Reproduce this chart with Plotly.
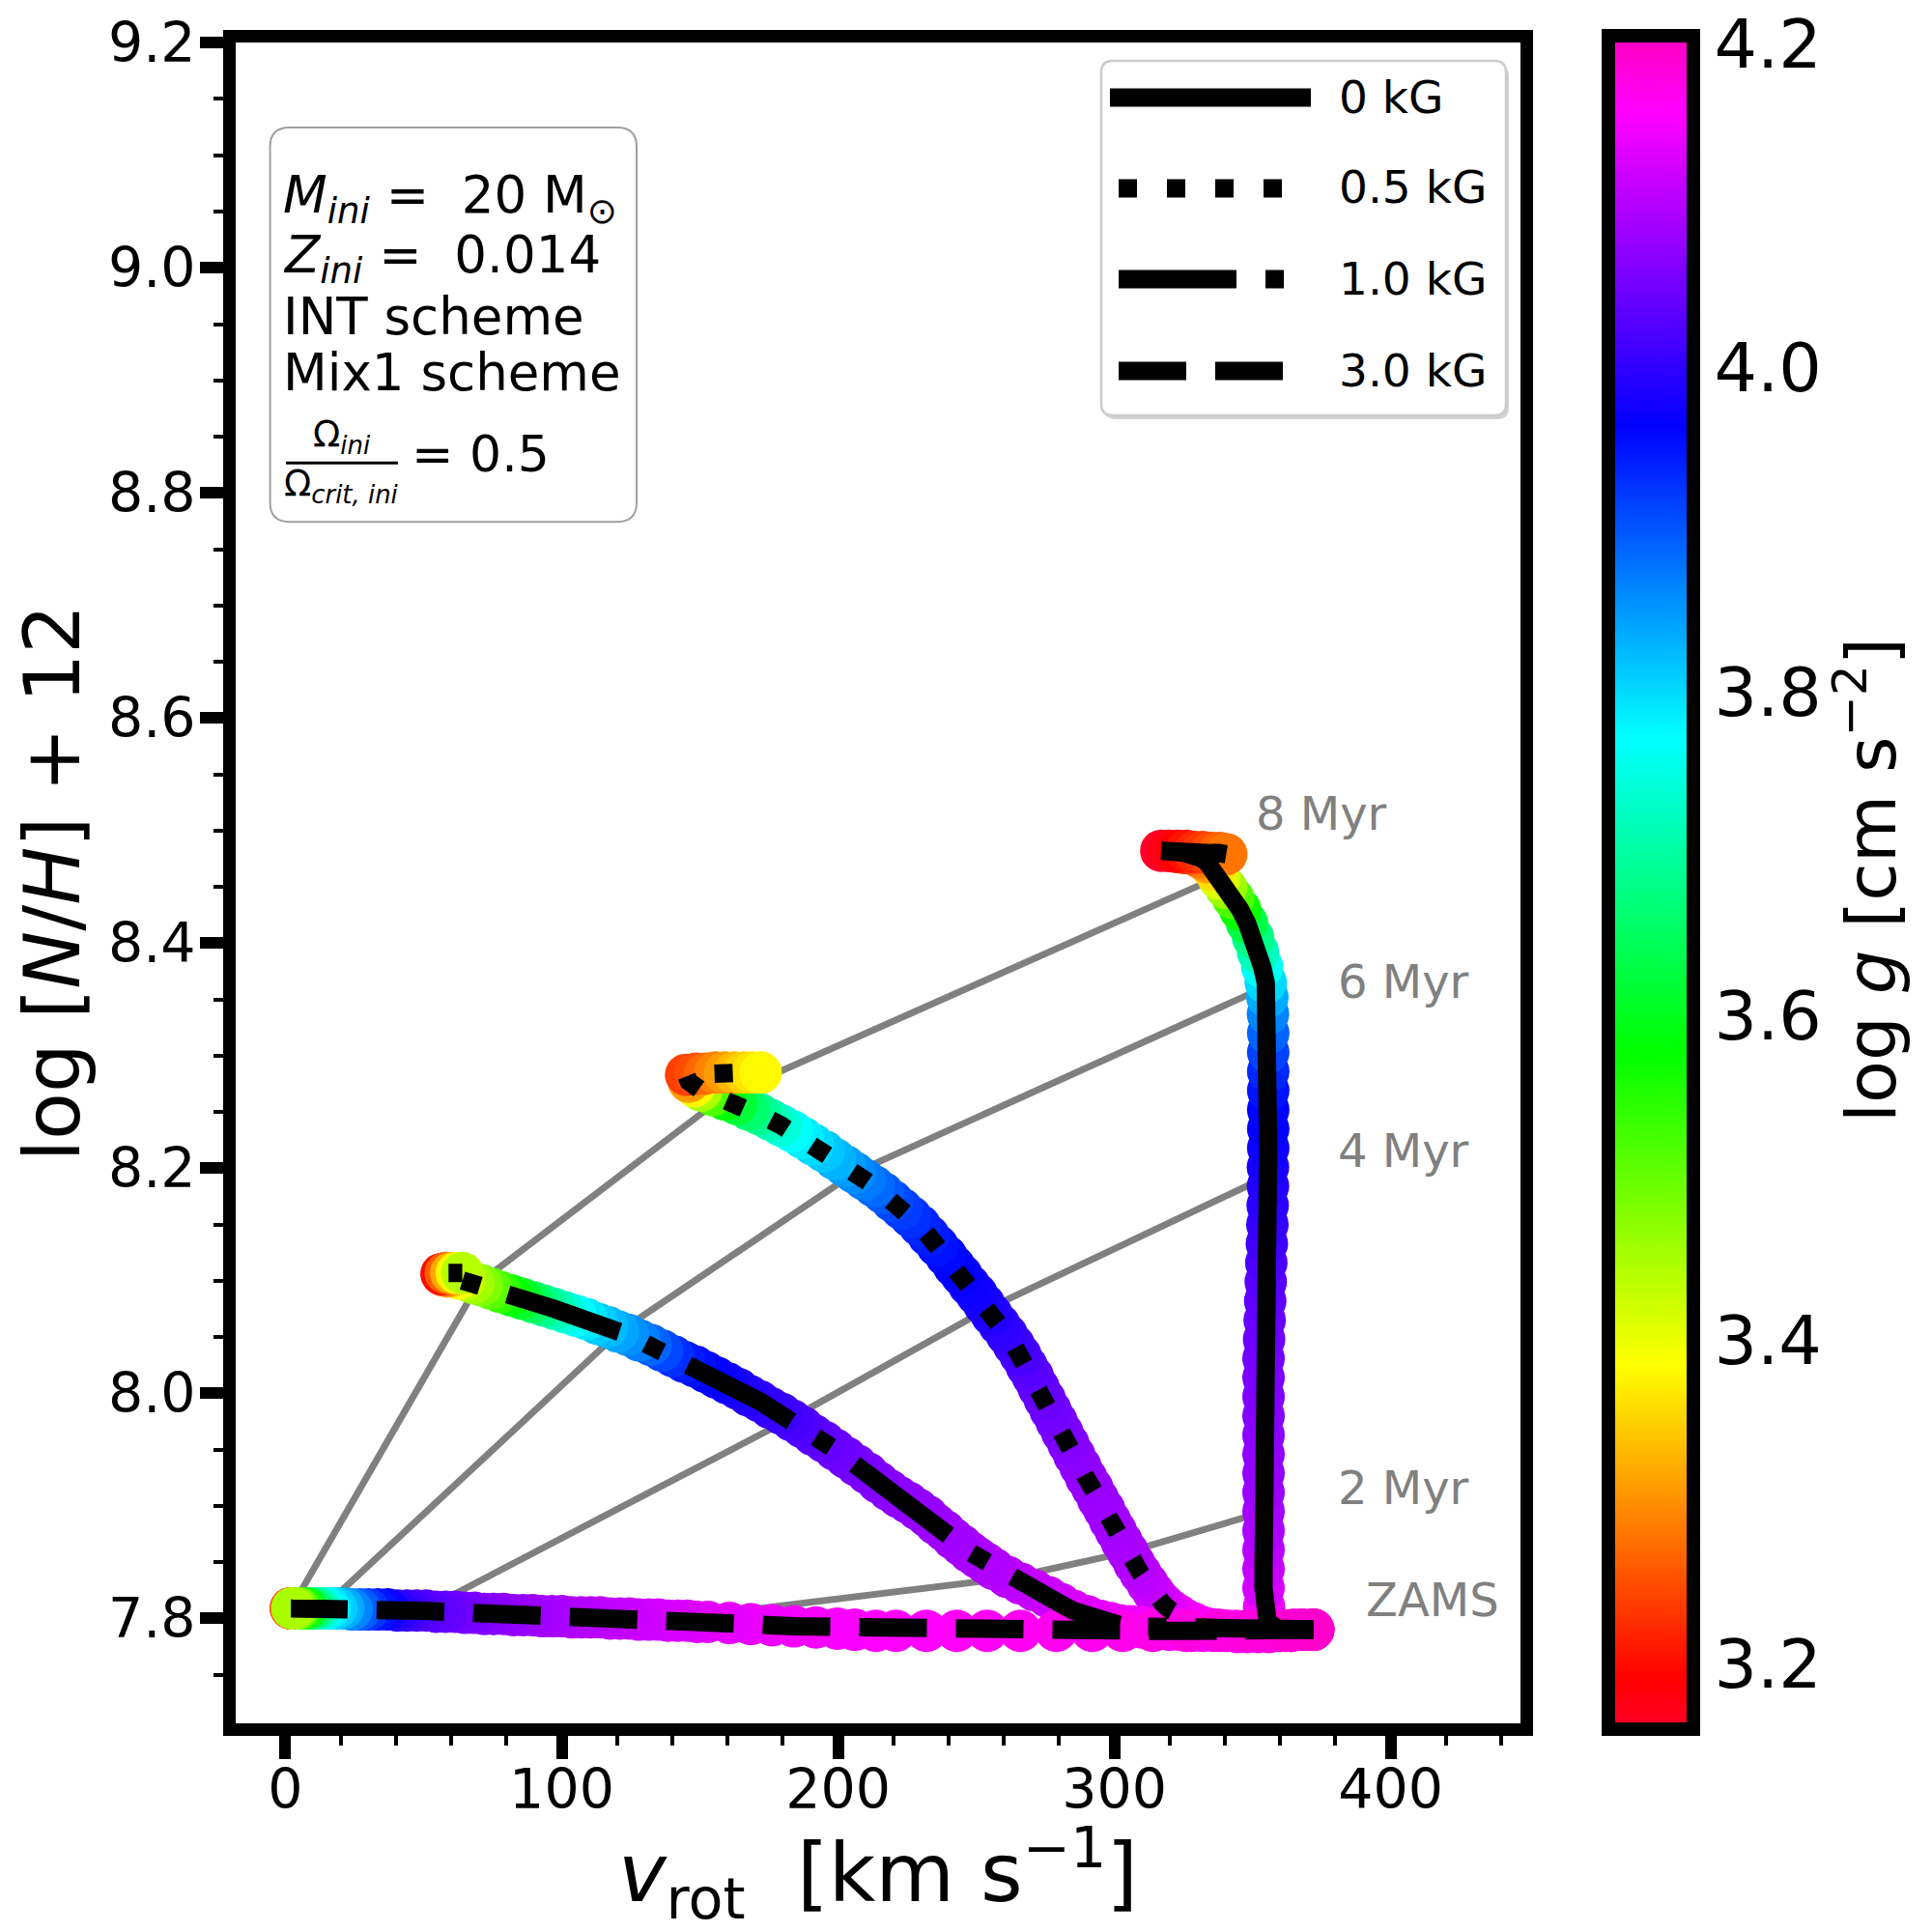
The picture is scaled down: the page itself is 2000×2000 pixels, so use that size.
import plotly.graph_objects as go

# ---------------- data ----------------
# 0 kG track: v_rot [km/s], log[N/H]+12, log g
v_0kG = [372, 365, 359, 355.5, 354.2, 354, 354, 354, 354, 354, 354, 354, 354, 354, 354, 354, 354, 354,
         354.2, 354.4, 354.6, 354.8, 355, 355.2, 355.4, 355.5, 355.6, 355.6, 355.7, 355.7, 355.7, 355.7,
         355.7, 355.7, 355.7, 355.6, 355.4, 354.8, 353.5, 352, 350.2, 348, 345.5, 343, 340.5, 338, 336,
         333.5, 331, 328.5, 325.5, 322.5, 319.5, 317, 320, 323, 326, 329, 332, 335, 338, 340.5]
n_0kG = [7.790, 7.790, 7.791, 7.797, 7.810, 7.827, 7.844, 7.861, 7.878, 7.895, 7.912, 7.929, 7.946,
         7.963, 7.980, 7.997, 8.014, 8.031, 8.048, 8.065, 8.082, 8.099, 8.116, 8.133, 8.150, 8.167,
         8.184, 8.201, 8.218, 8.235, 8.252, 8.269, 8.286, 8.303, 8.320, 8.337, 8.352, 8.365, 8.379,
         8.392, 8.405, 8.418, 8.430, 8.440, 8.449, 8.457, 8.465, 8.472, 8.476, 8.479, 8.480, 8.481,
         8.482, 8.482, 8.482, 8.482, 8.482, 8.481, 8.481, 8.480, 8.480, 8.479]
g_0kG = [4.195, 4.19, 4.18, 4.16, 4.145, 4.125, 4.115, 4.105, 4.095, 4.09, 4.082, 4.078, 4.074, 4.07,
         4.066, 4.062, 4.058, 4.054, 4.048, 4.042, 4.036, 4.03, 4.022, 4.012, 4.004, 3.998, 3.99, 3.982,
         3.975, 3.968, 3.962, 3.95, 3.935, 3.915, 3.89, 3.865, 3.835, 3.80, 3.765, 3.72, 3.68, 3.63,
         3.57, 3.52, 3.46, 3.41, 3.36, 3.31, 3.285, 3.26, 3.235, 3.21, 3.185, 3.16, 3.175, 3.19, 3.205,
         3.22, 3.235, 3.25, 3.265, 3.28]

# 0.5 kG track
v_05kG = [372, 368, 364, 360, 356, 352, 348, 344.5, 341, 337.5, 334, 331, 328.3, 325.5, 323, 320.5, 318,
          316, 314.2, 312, 309.5, 307.2, 304.9, 302.7, 300.5, 298.4, 296.3, 294.1, 292, 289.8, 287.7,
          285.5, 283.4, 281.2, 279.1, 276.9, 274.8, 272.6, 270.5, 268.3, 266, 263.6, 261.1, 258.4, 255.6,
          252.9, 250.2, 247.5, 244.7, 242, 239.2, 236, 232.8, 229.6, 226.3, 223, 219.6, 216.3, 213, 209.5,
          206, 202.5, 198.9, 195, 191, 187.2, 183.3, 179.4, 175.5, 171.6, 167.7, 163.4, 159, 154.8, 150.5,
          148, 146, 145, 148.5, 152, 155.5, 159, 162.5, 166, 169, 172]
n_05kG = [7.790, 7.790, 7.789, 7.789, 7.788, 7.788, 7.788, 7.788, 7.789, 7.790, 7.791, 7.793, 7.796,
          7.799, 7.803, 7.807, 7.812, 7.817, 7.823, 7.831, 7.840, 7.849, 7.859, 7.868, 7.878, 7.887,
          7.897, 7.906, 7.916, 7.925, 7.935, 7.945, 7.955, 7.965, 7.975, 7.985, 7.995, 8.005, 8.015,
          8.024, 8.034, 8.043, 8.052, 8.061, 8.070, 8.079, 8.088, 8.096, 8.105, 8.113, 8.122, 8.131,
          8.140, 8.149, 8.157, 8.164, 8.171, 8.178, 8.184, 8.190, 8.196, 8.202, 8.208, 8.215, 8.221,
          8.227, 8.233, 8.238, 8.243, 8.248, 8.252, 8.257, 8.261, 8.265, 8.269, 8.273, 8.277, 8.283,
          8.284, 8.284, 8.285, 8.285, 8.285, 8.285, 8.285, 8.285]
g_05kG = [4.195, 4.192, 4.19, 4.187, 4.185, 4.182, 4.18, 4.177, 4.175, 4.172, 4.168, 4.163, 4.158,
          4.152, 4.146, 4.14, 4.134, 4.127, 4.12, 4.112, 4.105, 4.10, 4.095, 4.092, 4.09, 4.087, 4.085,
          4.082, 4.08, 4.077, 4.075, 4.07, 4.065, 4.06, 4.055, 4.05, 4.045, 4.04, 4.035, 4.028, 4.02,
          4.012, 4.005, 3.998, 3.99, 3.985, 3.98, 3.975, 3.97, 3.965, 3.96, 3.952, 3.945, 3.938, 3.93,
          3.92, 3.91, 3.898, 3.885, 3.872, 3.86, 3.845, 3.83, 3.815, 3.80, 3.785, 3.77, 3.745, 3.72,
          3.69, 3.66, 3.62, 3.58, 3.52, 3.45, 3.38, 3.31, 3.24, 3.25, 3.27, 3.29, 3.31, 3.33, 3.35,
          3.365, 3.38]

# 1.0 kG track
v_10kG = [372, 368, 364, 360, 356, 352, 348, 344, 340, 336, 332, 328, 324, 320, 316, 313, 310, 306, 302,
          298.3, 294.7, 290, 285, 280.5, 276, 271, 266, 261.2, 256.4, 253.5, 250.5, 247.6, 244.7, 241.6,
          238.5, 235.3, 232.2, 228.8, 225.3, 221.9, 218.4, 214.5, 210.6, 206.7, 202.8, 198.9, 195, 191.1,
          187.2, 183.3, 179.4, 175.5, 171.6, 167.7, 163.8, 159.9, 156, 152.1, 148.2, 144.3, 140.3, 136.3,
          132.2, 128.1, 124, 120.3, 116.5, 112.8, 109, 105.1, 101.2, 97.4, 93.5, 89.6, 85.6, 81.7, 77.8,
          74.4, 71, 68, 65, 62.5, 60, 58.5, 57, 56.5, 58, 60, 62, 64]
n_10kG = [7.790, 7.790, 7.789, 7.789, 7.789, 7.789, 7.789, 7.789, 7.789, 7.789, 7.789, 7.789, 7.790,
          7.790, 7.791, 7.791, 7.792, 7.793, 7.794, 7.796, 7.798, 7.802, 7.807, 7.813, 7.819, 7.825,
          7.831, 7.837, 7.844, 7.849, 7.854, 7.859, 7.865, 7.871, 7.878, 7.884, 7.891, 7.897, 7.903,
          7.908, 7.914, 7.921, 7.929, 7.936, 7.943, 7.950, 7.957, 7.963, 7.970, 7.976, 7.982, 7.987,
          7.993, 7.998, 8.004, 8.009, 8.014, 8.019, 8.024, 8.028, 8.033, 8.038, 8.043, 8.047, 8.052,
          8.055, 8.059, 8.062, 8.066, 8.069, 8.072, 8.075, 8.078, 8.081, 8.084, 8.087, 8.090, 8.093,
          8.096, 8.098, 8.101, 8.102, 8.104, 8.104, 8.105, 8.106, 8.107, 8.107, 8.107, 8.107]
g_10kG = [4.195, 4.192, 4.19, 4.187, 4.185, 4.182, 4.18, 4.177, 4.175, 4.172, 4.17, 4.167, 4.165,
          4.162, 4.158, 4.155, 4.152, 4.148, 4.145, 4.142, 4.14, 4.135, 4.13, 4.125, 4.12, 4.115, 4.11,
          4.105, 4.10, 4.097, 4.095, 4.092, 4.09, 4.087, 4.085, 4.082, 4.08, 4.077, 4.075, 4.072, 4.07,
          4.065, 4.06, 4.055, 4.05, 4.045, 4.04, 4.032, 4.025, 4.018, 4.01, 4.005, 4.0, 3.992, 3.985,
          3.977, 3.97, 3.962, 3.955, 3.945, 3.93, 3.91, 3.89, 3.87, 3.855, 3.84, 3.825, 3.81, 3.79,
          3.77, 3.745, 3.715, 3.685, 3.65, 3.61, 3.575, 3.54, 3.51, 3.48, 3.455, 3.43, 3.39, 3.35,
          3.31, 3.27, 3.2, 3.26, 3.32, 3.38, 3.44]

# 3.0 kG track
v_30kG = [372, 362, 350, 338, 326, 314, 303, 292, 279, 266, 254, 243, 232, 221, 213.7, 206, 199.7, 192,
          184, 176.2, 168.5, 160.7, 152.8, 149, 145.5, 142, 138.5, 135, 131.5, 128, 124.5, 121, 117.5,
          114, 110.5, 107, 103.5, 100, 96.5, 93, 89.5, 86, 82.5, 79, 75.5, 72, 68.5, 65, 61.5, 58, 54.5,
          51, 47.5, 44, 40.5, 37, 33.5, 30, 27, 24, 21, 18.5, 16, 14, 12, 10, 8, 6.5, 5, 3.8, 2.8, 2.2,
          2, 2, 2.2, 2.5]
n_30kG = [7.790, 7.789, 7.789, 7.789, 7.789, 7.789, 7.789, 7.789, 7.789, 7.789, 7.789, 7.789, 7.789,
          7.789, 7.789, 7.790, 7.791, 7.792, 7.793, 7.794, 7.795, 7.796, 7.797, 7.797, 7.798, 7.798,
          7.798, 7.799, 7.799, 7.799, 7.800, 7.800, 7.800, 7.801, 7.801, 7.801, 7.801, 7.802, 7.802,
          7.802, 7.803, 7.803, 7.803, 7.804, 7.804, 7.804, 7.805, 7.805, 7.806, 7.806, 7.806, 7.807,
          7.807, 7.807, 7.807, 7.808, 7.808, 7.808, 7.808, 7.808, 7.809, 7.809, 7.809, 7.809, 7.809,
          7.809, 7.809, 7.809, 7.809, 7.809, 7.809, 7.809, 7.809, 7.809, 7.809, 7.809]
g_30kG = [4.195, 4.19, 4.185, 4.18, 4.178, 4.175, 4.172, 4.17, 4.168, 4.166, 4.164, 4.162, 4.16, 4.158,
          4.157, 4.155, 4.153, 4.15, 4.148, 4.145, 4.142, 4.138, 4.135, 4.133, 4.131, 4.129, 4.127,
          4.125, 4.122, 4.12, 4.117, 4.114, 4.111, 4.108, 4.105, 4.102, 4.099, 4.096, 4.093, 4.089,
          4.085, 4.081, 4.077, 4.073, 4.069, 4.064, 4.059, 4.054, 4.048, 4.042, 4.035, 4.028, 4.02,
          4.008, 3.995, 3.975, 3.95, 3.925, 3.895, 3.865, 3.835, 3.81, 3.785, 3.76, 3.72, 3.67, 3.61,
          3.56, 3.51, 3.47, 3.42, 3.36, 3.26, 3.17, 3.30, 3.45]

track_names = ["0 kG", "0.5 kG", "1.0 kG", "3.0 kG"]

# isochrones: vertices on the 3.0, 1.0, 0.5 and 0 kG tracks
iso_names = ["2 Myr", "4 Myr", "6 Myr", "8 Myr"]
iso_v = [[135, 262, 304.9, 354.5],
         [49, 182.5, 254, 355.6],
         [13, 121, 206, 355.5],
         [2, 70, 158.8, 335]]
iso_n = [[7.798, 7.836, 7.859, 7.895],
         [7.806, 7.977, 8.075, 8.193],
         [7.808, 8.055, 8.196, 8.362],
         [7.809, 8.098, 8.264, 8.456]]

# age labels
lab_text = ["8 Myr", "6 Myr", "4 Myr", "2 Myr", "ZAMS"]
lab_v = [350.5, 380.2, 380.2, 380.2, 390.4]
lab_n = [8.5154, 8.3662, 8.2157, 7.9159, 7.8167]

cb_ticks = [3.2, 3.4, 3.6, 3.8, 4.0, 4.2]
g_min, g_max = 3.16, 4.205

# ---------------- styling ----------------
FONT = "DejaVu Sans"
gist_rainbow = [[0.0, "#ff0029"], [0.03, "#ff0000"], [0.215, "#ffff00"], [0.4, "#00ff00"],
                [0.586, "#00ffff"], [0.77, "#0000ff"], [0.954, "#ff00ff"], [1.0, "#ff00bf"]]
LW = 19
dashes = ["solid", "19px,31px", "122px,30px,19px,30px", "70px,30px"]

# plot area on screen: x 244..1574, y 44..1784 (page has an 8 px body margin)
def px(X):
    return (X - 244) / 1330.0


def py(Y):
    return (1784 - Y) / 1740.0


tracks_v = [v_0kG, v_05kG, v_10kG, v_30kG]
tracks_n = [n_0kG, n_05kG, n_10kG, n_30kG]
tracks_g = [g_0kG, g_05kG, g_10kG, g_30kG]

fig = go.Figure()

for name, xv, yv in zip(iso_names, iso_v, iso_n):
    fig.add_trace(go.Scatter(x=xv, y=yv, mode="lines", line=dict(color="#808080", width=7),
                             showlegend=False, hoverinfo="skip", name=name))

for i, (xv, yv, gv) in enumerate(zip(tracks_v, tracks_n, tracks_g)):
    fig.add_trace(go.Scatter(
        x=xv, y=yv, mode="markers", showlegend=False, hoverinfo="skip", name=track_names[i],
        marker=dict(size=44, color=gv, colorscale=gist_rainbow, cmin=g_min, cmax=g_max,
                    line=dict(width=0), showscale=(i == 0),
                    colorbar=dict(
                        thickness=88, thicknessmode="pixels", len=1753, lenmode="pixels",
                        x=px(1665), xanchor="left", y=0.5004, yanchor="middle",
                        xpad=0, ypad=0, outlinewidth=14, outlinecolor="black",
                        ticks="", ticklen=0, tickvals=cb_ticks,
                        ticktext=[f"{t:.1f}" for t in cb_ticks], ticklabeloverflow="allow",
                        tickfont=dict(size=70, family=FONT, color="black"),
                    ))))

for i, (xv, yv) in enumerate(zip(tracks_v, tracks_n)):
    fig.add_trace(go.Scatter(x=xv, y=yv, mode="lines", name=track_names[i], showlegend=False,
                             hoverinfo="skip", line=dict(color="black", width=LW, dash=dashes[i])))

annotations = []
shapes = []

# colour-bar title
annotations.append(dict(x=px(1932), y=py(911), xref="paper", yref="paper", textangle=-90,
                        text="log <i>g</i> [cm s<sup>\u22122</sup>]", showarrow=False,
                        xanchor="center", yanchor="middle",
                        font=dict(size=72, family=FONT, color="black")))

# age labels
for t, xv, yv in zip(lab_text, lab_v, lab_n):
    annotations.append(dict(x=xv, y=yv, xref="x", yref="y", text=t, showarrow=False,
                            xanchor="left", yanchor="middle",
                            font=dict(size=48, family=FONT, color="#808080")))

# info box
info_lines = ["<i>M</i><sub><i>ini</i></sub> =\u00a0 20 M<sub>\u2299</sub>",
              "<i>Z</i><sub><i>ini</i></sub> =\u00a0 0.014",
              "INT scheme",
              "Mix1 scheme"]
info_n = [9.0612, 9.0081, 8.9572, 8.9071]
for t, yv in zip(info_lines, info_n):
    annotations.append(dict(x=-1.6, y=yv, xref="x", yref="y", text=t, showarrow=False,
                            xanchor="left", yanchor="middle",
                            font=dict(size=53, family=FONT, color="black")))
annotations.append(dict(x=20.3, y=8.8497, xref="x", yref="y", text="\u03a9<sub><i>ini</i></sub>",
                        showarrow=False, xanchor="center", yanchor="middle",
                        font=dict(size=37, family=FONT, color="black")))
annotations.append(dict(x=20.3, y=8.8066, xref="x", yref="y",
                        text="\u03a9<sub><i>crit,\u00a0ini</i></sub>",
                        showarrow=False, xanchor="center", yanchor="middle",
                        font=dict(size=37, family=FONT, color="black")))
annotations.append(dict(x=45.0, y=8.8343, xref="x", yref="y", text="= 0.5",
                        showarrow=False, xanchor="left", yanchor="middle",
                        font=dict(size=52, family=FONT, color="black")))


def rounded(x0, x1, y0, y1, rx, ry):
    return (f"M {x0+rx},{y0} L {x1-rx},{y0} Q {x1},{y0} {x1},{y0+ry} "
            f"L {x1},{y1-ry} Q {x1},{y1} {x1-rx},{y1} L {x0+rx},{y1} "
            f"Q {x0},{y1} {x0},{y1-ry} L {x0},{y0+ry} Q {x0},{y0} {x0+rx},{y0} Z")


shapes.append(dict(type="path", path=rounded(-5.56, 127.1, 8.7743, 9.1247, 7.0, 0.0171),
                   xref="x", yref="y", line=dict(color="#a0a0a0", width=2),
                   fillcolor="rgba(255,255,255,0.8)", layer="above"))
shapes.append(dict(type="line", x0=0.2, x1=40.7, y0=8.8266, y1=8.8266, xref="x", yref="y",
                   line=dict(color="black", width=3), layer="above"))

# legend (drawn by hand so the samples keep the full line width)
shapes.append(dict(type="path", xref="paper", yref="paper", layer="above",
                   path=rounded(px(1143), px(1562), py(434), py(67), 12 / 1330, 12 / 1740),
                   line=dict(width=0), fillcolor="rgba(0,0,0,0.18)"))
shapes.append(dict(type="path", xref="paper", yref="paper", layer="above",
                   path=rounded(px(1140), px(1559), py(430), py(63), 12 / 1330, 12 / 1740),
                   line=dict(color="#cccccc", width=2.5), fillcolor="white"))
leg_y = [101, 195, 289, 384]
leg_x0 = [1149, 1158, 1158, 1158]
leg_x1 = [1357, 1348, 1348, 1348]
for i in range(4):
    shapes.append(dict(type="line", xref="paper", yref="paper", layer="above",
                       x0=px(leg_x0[i]), x1=px(leg_x1[i]), y0=py(leg_y[i]), y1=py(leg_y[i]),
                       line=dict(color="black", width=LW, dash=dashes[i])))
    annotations.append(dict(x=px(1384), y=py(leg_y[i] - 1), xref="paper", yref="paper",
                            text=track_names[i], showarrow=False, xanchor="left", yanchor="middle",
                            font=dict(size=47, family=FONT, color="black")))

fig.update_layout(
    width=1992, height=1992,
    margin=dict(l=236, r=426, t=36, b=216, autoexpand=False),
    paper_bgcolor="white", plot_bgcolor="white",
    font=dict(family=FONT, color="black"),
    showlegend=False,
    annotations=annotations,
    shapes=shapes,
    xaxis=dict(range=[-18.0, 447.0], tick0=0, dtick=100, ticks="outside", ticklen=24, tickwidth=12,
               tickcolor="black", showline=True, linewidth=13, linecolor="black", mirror=True,
               showgrid=False, zeroline=False, tickfont=dict(size=57, family=FONT),
               ticklabelstandoff=-17,
               minor=dict(dtick=20, tick0=0, ticks="outside", ticklen=10, tickwidth=4,
                          tickcolor="black", showgrid=False),
               title=dict(text="<i>v</i><sub>rot</sub>\u00a0\u00a0[km s<sup>\u22121</sup>]",
                          font=dict(size=84, family=FONT), standoff=4)),
    yaxis=dict(range=[7.7068, 9.2002], tick0=7.8, dtick=0.2, tickformat=".1f", ticks="outside",
               ticklen=24, tickwidth=12, tickcolor="black", showline=True, linewidth=13,
               linecolor="black", mirror=True, showgrid=False, zeroline=False,
               tickfont=dict(size=57, family=FONT), ticklabelstandoff=-7,
               minor=dict(dtick=0.05, tick0=7.8, ticks="outside", ticklen=10, tickwidth=4,
                          tickcolor="black", showgrid=False),
               title=dict(text="log [<i>N</i>/<i>H</i>] + 12", font=dict(size=80, family=FONT),
                          standoff=12)),
)

fig.write_html("out.html")
